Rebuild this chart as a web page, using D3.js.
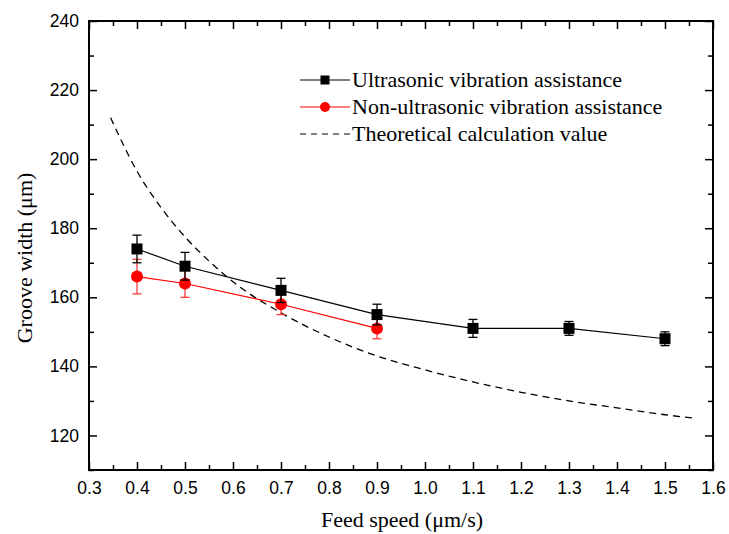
<!DOCTYPE html>
<html>
<head>
<meta charset="utf-8">
<script src="https://cdn.jsdelivr.net/npm/d3@7"></script>
<style>
  body { margin: 0; background: #fff; }
  svg text { fill: #000; }
</style>
</head>
<body>
<div id="chart"></div>
<script>
// Data
var feedUltra = [0.4, 0.5, 0.7, 0.9, 1.1, 1.3, 1.5];
var widthUltra = [174, 169, 162, 155, 151, 151, 148];
var errUltra = [4, 4, 3.5, 3, 2.6, 2, 2];

var feedNon = [0.4, 0.5, 0.7, 0.9];
var widthNon = [166, 164, 158, 151];
var errNon = [5, 4, 3, 3];

var feedTheory = [0.345, 0.4, 0.45, 0.5, 0.55, 0.6, 0.7, 0.8, 0.9, 1.0, 1.1, 1.2, 1.3, 1.4, 1.5, 1.56];
var widthTheory = [212, 196.5, 186, 177.5, 170.5, 164.5, 155.5, 148.5, 143, 139, 135.5, 132.5, 130, 128, 126, 125];

var xTicks = [0.3, 0.4, 0.5, 0.6, 0.7, 0.8, 0.9, 1.0, 1.1, 1.2, 1.3, 1.4, 1.5, 1.6];
var yTicks = [120, 140, 160, 180, 200, 220, 240];

var legendLabels = ['Ultrasonic vibration assistance', 'Non-ultrasonic vibration assistance', 'Theoretical calculation value'];

// Layout
var width = 729, height = 534;
var margin = { top: 21, right: 16, bottom: 64, left: 89 };
var innerW = width - margin.left - margin.right,
    innerH = height - margin.top - margin.bottom;

var svg = d3.select('#chart').append('svg')
    .attr('width', width)
    .attr('height', height);
var g = svg.append('g')
    .attr('transform', 'translate(' + margin.left + ',' + margin.top + ')');

var xScale = d3.scaleLinear().domain([0.3, 1.6]).range([0, innerW]);
var yScale = d3.scaleLinear().domain([110, 240]).range([innerH, 0]);

var tickFont = 'Liberation Sans, Arial, sans-serif';
var serifFont = 'Liberation Serif, Times New Roman, serif';

// Minor ticks
var xMinor = d3.range(0.35, 1.6, 0.1);
var yMinor = d3.range(110, 241, 20);

function styleAxis(sel) {
    sel.select('.domain').remove();
    sel.selectAll('line').attr('stroke', '#000').attr('stroke-width', 1.5);
}

// Bottom axis with labels (ticks pointing in)
g.append('g')
    .attr('transform', 'translate(0,' + innerH + ')')
    .call(d3.axisBottom(xScale).tickValues(xTicks).tickSizeInner(-8).tickSizeOuter(0).tickPadding(12)
        .tickFormat(d3.format('.1f')))
    .call(styleAxis)
    .selectAll('text')
    .style('font-family', tickFont).style('font-size', '17.5px');
g.append('g')
    .attr('transform', 'translate(0,' + innerH + ')')
    .call(d3.axisBottom(xScale).tickValues(xMinor).tickSizeInner(-5).tickSizeOuter(0).tickFormat(''))
    .call(styleAxis);

// Top axis
g.append('g')
    .call(d3.axisTop(xScale).tickValues(xTicks).tickSizeInner(-8).tickSizeOuter(0).tickFormat(''))
    .call(styleAxis);
g.append('g')
    .call(d3.axisTop(xScale).tickValues(xMinor).tickSizeInner(-5).tickSizeOuter(0).tickFormat(''))
    .call(styleAxis);

// Left axis
g.append('g')
    .call(d3.axisLeft(yScale).tickValues(yTicks).tickSizeInner(-8).tickSizeOuter(0).tickPadding(10))
    .call(styleAxis)
    .selectAll('text')
    .style('font-family', tickFont).style('font-size', '17.5px');
g.append('g')
    .call(d3.axisLeft(yScale).tickValues(yMinor).tickSizeInner(-5).tickSizeOuter(0).tickFormat(''))
    .call(styleAxis);

// Right axis
g.append('g')
    .attr('transform', 'translate(' + innerW + ',0)')
    .call(d3.axisRight(yScale).tickValues(yTicks).tickSizeInner(-8).tickSizeOuter(0).tickFormat(''))
    .call(styleAxis);
g.append('g')
    .attr('transform', 'translate(' + innerW + ',0)')
    .call(d3.axisRight(yScale).tickValues(yMinor).tickSizeInner(-5).tickSizeOuter(0).tickFormat(''))
    .call(styleAxis);

// Frame
g.append('rect')
    .attr('width', innerW).attr('height', innerH)
    .attr('fill', 'none').attr('stroke', '#000').attr('stroke-width', 2);

// Axis titles
svg.append('text')
    .attr('x', 402)
    .attr('y', 527)
    .attr('text-anchor', 'middle')
    .style('font-family', serifFont).style('font-size', '22px')
    .text('Feed speed (\u03bcm/s)');
svg.append('text')
    .attr('transform', 'translate(32,258) rotate(-90)')
    .attr('text-anchor', 'middle')
    .style('font-family', serifFont).style('font-size', '22px')
    .text('Groove width (\u03bcm)');

// Theoretical curve
var theory = feedTheory.map(function(x, i) { return [x, widthTheory[i]]; });
g.append('path')
    .datum(theory)
    .attr('fill', 'none')
    .attr('stroke', '#000')
    .attr('stroke-width', 1.3)
    .attr('stroke-dasharray', '7,5')
    .attr('d', d3.line()
        .x(function(d) { return xScale(d[0]); })
        .y(function(d) { return yScale(d[1]); })
        .curve(d3.curveMonotoneX));

// Series drawing
function drawSeries(xs, ys, es, color, barColor, marker) {
    var pts = xs.map(function(x, i) { return { x: x, y: ys[i], e: es[i] }; });
    var s = g.append('g');
    s.append('path')
        .datum(pts)
        .attr('fill', 'none')
        .attr('stroke', color)
        .attr('stroke-width', 1.2)
        .attr('d', d3.line()
            .x(function(d) { return xScale(d.x); })
            .y(function(d) { return yScale(d.y); }));
    var eb = s.selectAll('.err').data(pts).enter().append('g')
        .attr('stroke', barColor).attr('stroke-width', 1.3);
    eb.append('line')
        .attr('x1', function(d) { return xScale(d.x); })
        .attr('x2', function(d) { return xScale(d.x); })
        .attr('y1', function(d) { return yScale(d.y - d.e); })
        .attr('y2', function(d) { return yScale(d.y + d.e); });
    [-1, 1].forEach(function(sign) {
        eb.append('line')
            .attr('x1', function(d) { return xScale(d.x) - 4.5; })
            .attr('x2', function(d) { return xScale(d.x) + 4.5; })
            .attr('y1', function(d) { return yScale(d.y + sign * d.e); })
            .attr('y2', function(d) { return yScale(d.y + sign * d.e); });
    });
    if (marker === 'square') {
        s.selectAll('.mk').data(pts).enter().append('rect')
            .attr('x', function(d) { return xScale(d.x) - 5.5; })
            .attr('y', function(d) { return yScale(d.y) - 5.5; })
            .attr('width', 11).attr('height', 11)
            .attr('fill', color);
    } else {
        s.selectAll('.mk').data(pts).enter().append('circle')
            .attr('cx', function(d) { return xScale(d.x); })
            .attr('cy', function(d) { return yScale(d.y); })
            .attr('r', 6)
            .attr('fill', color);
    }
}

drawSeries(feedNon, widthNon, errNon, '#ff0000', '#ff3b3b', 'circle');
drawSeries(feedUltra, widthUltra, errUltra, '#000', '#000', 'square');

// Legend
var legend = svg.append('g').attr('transform', 'translate(300,80)');
legendLabels.forEach(function(label, i) {
    var row = legend.append('g').attr('transform', 'translate(0,' + (i * 27) + ')');
    var line = row.append('line')
        .attr('x1', 0).attr('x2', 50).attr('y1', 0).attr('y2', 0)
        .attr('stroke-width', 1.2);
    if (i === 0) {
        line.attr('stroke', '#000');
        row.append('rect').attr('x', 20.5).attr('y', -4.5).attr('width', 9).attr('height', 9).attr('fill', '#000');
    } else if (i === 1) {
        line.attr('stroke', '#ff0000');
        row.append('circle').attr('cx', 25).attr('cy', 0).attr('r', 5).attr('fill', '#ff0000');
    } else {
        line.attr('stroke', '#000').attr('stroke-dasharray', '6,5').attr('x2', 52);
    }
    row.append('text')
        .attr('x', 52).attr('y', 7)
        .style('font-family', serifFont).style('font-size', '22px')
        .text(label);
});
</script>
</body>
</html>
